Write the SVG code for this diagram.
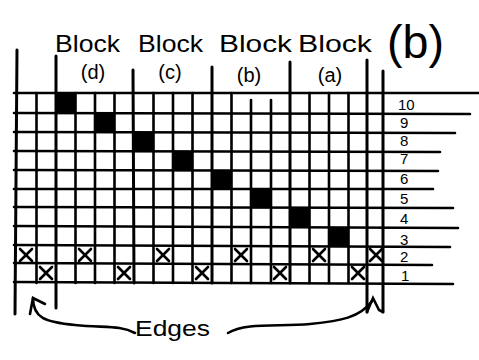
<svg xmlns="http://www.w3.org/2000/svg" width="479" height="360" viewBox="0 0 479 360">
<style>
.ln{stroke:#000;stroke-width:2.6;stroke-linecap:round;fill:none}
.dv{stroke:#000;stroke-width:3;stroke-linecap:round;fill:none}
.t{font-family:"Liberation Sans",Arial,sans-serif;fill:#000}
.x{stroke:#000;stroke-width:2.6;stroke-linecap:round}
.blk{fill:#000}
</style>
<defs>
<g id="xm"><line class="x" x1="3" y1="3" x2="15" y2="15"/><line class="x" x1="15" y1="3" x2="3" y2="15"/></g>
</defs>
<rect width="479" height="360" fill="#fff"/>
<g id="title">
<text class="t" x="55" y="52" font-size="24" textLength="65" lengthAdjust="spacingAndGlyphs">Block</text>
<text class="t" x="138" y="52" font-size="24" textLength="65" lengthAdjust="spacingAndGlyphs">Block</text>
<text class="t" x="219" y="52" font-size="24" textLength="73" lengthAdjust="spacingAndGlyphs">Block</text>
<text class="t" x="298" y="52" font-size="24" textLength="74" lengthAdjust="spacingAndGlyphs">Block</text>
<text class="t" x="387" y="58" font-size="46" textLength="57" lengthAdjust="spacingAndGlyphs">(b)</text>
</g>
<g id="block-labels">
<text class="t" x="93" y="79" font-size="20" text-anchor="middle">(d)</text>
<text class="t" x="170" y="79" font-size="20" text-anchor="middle">(c)</text>
<text class="t" x="249" y="82" font-size="20" text-anchor="middle">(b)</text>
<text class="t" x="330" y="82" font-size="20" text-anchor="middle">(a)</text>
</g>
<g id="cells">
<rect class="blk" x="56" y="93" width="19.5" height="20"/>
<rect class="blk" x="95" y="113" width="19.5" height="19"/>
<rect class="blk" x="134" y="132" width="19.5" height="19"/>
<rect class="blk" x="173" y="151" width="19.5" height="19"/>
<rect class="blk" x="212" y="170" width="19.5" height="19"/>
<rect class="blk" x="251" y="189" width="19.5" height="19"/>
<rect class="blk" x="290" y="208" width="19.5" height="19"/>
<rect class="blk" x="329" y="227" width="19.5" height="19"/>
</g>
<g id="grid">
<line class="ln" x1="14" y1="93" x2="479" y2="93"/>
<line class="ln" x1="14" y1="113" x2="470" y2="114"/>
<line class="ln" x1="14" y1="132" x2="455" y2="133"/>
<line class="ln" x1="14" y1="151" x2="440" y2="152"/>
<line class="ln" x1="14" y1="170" x2="438" y2="171"/>
<line class="ln" x1="14" y1="189" x2="433" y2="189"/>
<line class="ln" x1="14" y1="207" x2="453" y2="208"/>
<line class="ln" x1="14" y1="226" x2="458" y2="228"/>
<line class="ln" x1="14" y1="245" x2="450" y2="247"/>
<line class="ln" x1="14" y1="263" x2="432" y2="265"/>
<line class="ln" x1="14" y1="282" x2="453" y2="284"/>
<line class="dv" x1="17" y1="50" x2="15" y2="314"/>
<line class="ln" x1="36.5" y1="93" x2="36.5" y2="283"/>
<line class="dv" x1="56" y1="56" x2="56" y2="308"/>
<line class="ln" x1="75.5" y1="93" x2="75.5" y2="283"/>
<line class="ln" x1="95" y1="93" x2="95" y2="283"/>
<line class="ln" x1="114.5" y1="93" x2="114.5" y2="283"/>
<line class="dv" x1="133" y1="70" x2="134" y2="283"/>
<line class="ln" x1="153.5" y1="93" x2="153.5" y2="283"/>
<line class="ln" x1="173" y1="93" x2="173" y2="283"/>
<line class="ln" x1="192.5" y1="93" x2="192.5" y2="283"/>
<line class="dv" x1="212" y1="67" x2="212" y2="283"/>
<line class="ln" x1="231.5" y1="93" x2="231.5" y2="283"/>
<line class="ln" x1="251" y1="100" x2="251" y2="283"/>
<line class="ln" x1="271" y1="100" x2="271" y2="283"/>
<line class="dv" x1="290" y1="62" x2="290" y2="283"/>
<line class="ln" x1="309.5" y1="93" x2="309.5" y2="283"/>
<line class="ln" x1="329" y1="93" x2="329" y2="283"/>
<line class="ln" x1="348.5" y1="93" x2="348.5" y2="283"/>
<line class="dv" x1="367" y1="60" x2="367" y2="312"/>
<line class="dv" x1="383" y1="71" x2="383" y2="312"/>
</g>
<g id="marks">
<use href="#xm" x="17" y="246"/>
<use href="#xm" x="76" y="246"/>
<use href="#xm" x="154" y="246"/>
<use href="#xm" x="232" y="246"/>
<use href="#xm" x="310" y="246"/>
<use href="#xm" x="367" y="246"/>
<use href="#xm" x="37" y="264"/>
<use href="#xm" x="115" y="264"/>
<use href="#xm" x="193" y="264"/>
<use href="#xm" x="271" y="264"/>
<use href="#xm" x="349" y="264"/>
</g>
<g id="row-numbers" class="t" font-size="15">
<text x="398" y="110">10</text>
<text x="400" y="128">9</text>
<text x="400" y="146">8</text>
<text x="400" y="164">7</text>
<text x="400" y="184">6</text>
<text x="400" y="204">5</text>
<text x="400" y="224">4</text>
<text x="400" y="245">3</text>
<text x="400" y="262">2</text>
<text x="401" y="281">1</text>
</g>
<g id="connectors">
<path class="ln" d="M33,298 C33,318 45,322 75,325 S120,325 135,333"/>
<polyline class="ln" points="30,314 33,298 45,304"/>
<path class="ln" d="M228,333 C245,322 280,327 310,324 S360,318 373,300"/>
<polyline class="ln" points="367,312 373,298 379,310 383,312"/>
</g>
<g id="edges-label">
<text class="t" x="135" y="336" font-size="22" textLength="75" lengthAdjust="spacingAndGlyphs">Edges</text>
</g>
</svg>
